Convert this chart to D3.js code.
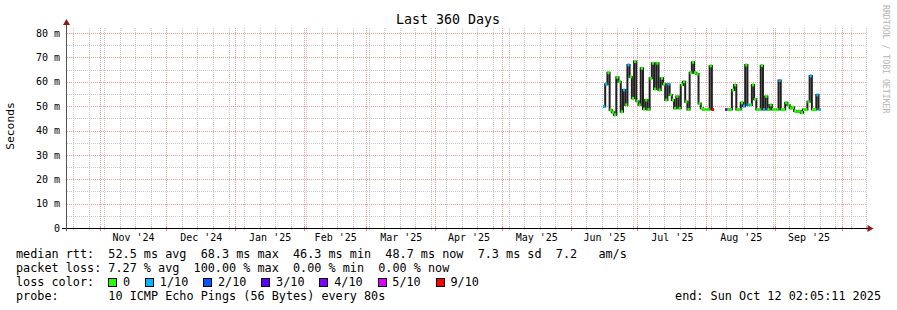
<!DOCTYPE html>
<html>
<head>
<meta charset="utf-8">
<script src="https://cdn.jsdelivr.net/npm/d3@7"></script>
<style>
  body { margin: 0; background: #fff; }
  svg text { font-family: "DejaVu Sans Mono", monospace; white-space: pre; }
</style>
</head>
<body>
<div id="chart"></div>
<script>
// time window of the graph
const endTime = new Date(2025, 9, 12, 2, 5, 11);
const spanDays = 360;

// y axis ticks (milliseconds)
const yTicks = [0, 10, 20, 30, 40, 50, 60, 70, 80];
const yMinorTicks = [5, 15, 25, 35, 45, 55, 65, 75];

// median rtt per day (ms) and lost pings out of 10, first block
const seg1Start = new Date(2025, 5, 15, 12);
const seg1Median = [49.8, 59.0, 63.7, 48.4, 47.5, 46.4, 61.8, 60.0, 47.7, 56.6,
  50.5, 66.9, 62.0, 53.2, 68.3, 52.0, 50.5, 65.5, 48.8, 52.5,
  48.6, 61.4, 67.6, 57.0, 67.6, 56.6, 61.4, 59.0, 52.5, 59.0,
  54.6, 52.5, 49.1, 54.0, 49.1, 58.7, 60.0, 51.8, 48.6, 63.7,
  68.0, 63.7, 63.2, 51.1, 49.1, 48.6, 48.6, 48.6, 66.5, 48.6];
const seg1Loss = [1, 1, 0, 0, 0, 0, 0, 0, 0, 1,
  0, 1, 0, 0, 0, 0, 0, 0, 0, 0,
  0, 0, 0, 0, 0, 0, 0, 0, 0, 1,
  0, 0, 0, 0, 0, 0, 0, 0, 0, 0,
  0, 0, 0, 0, 0, 0, 0, 0, 0, 9];

// second block after the outage
const seg2Start = new Date(2025, 7, 9, 12);
const seg2Median = [48.6, 48.6, 48.6, 56.6, 58.7, 48.6, 48.6, 51.4, 50.0, 66.9,
  50.5, 50.5, 58.7, 52.8, 48.6, 48.6, 66.6, 48.6, 54.0, 48.6,
  50.5, 48.6, 48.6, 48.6, 60.5, 48.6, 48.6, 51.4, 50.5, 49.1,
  49.5, 48.0, 47.7, 48.0, 47.3, 48.6, 48.6, 51.8, 62.4, 48.6,
  48.6, 54.6, 48.7];
const seg2Loss = [3, 0, 0, 0, 0, 0, 0, 0, 1, 0,
  1, 0, 0, 0, 0, 0, 0, 1, 0, 0,
  0, 0, 0, 0, 1, 0, 0, 0, 0, 0,
  0, 0, 0, 0, 0, 0, 0, 0, 1, 0,
  0, 1, 1];

// loss legend
const lossLabels = ["0", "1/10", "2/10", "3/10", "4/10", "5/10", "9/10"];
const lossColors = ["#26ff00", "#00b8ff", "#0059ff", "#5e00ff", "#7e00ff", "#dd00ff", "#ff0000"];

const legendLines = [
  "median rtt:  52.5 ms avg  68.3 ms max  46.3 ms min  48.7 ms now  7.3 ms sd  7.2   am/s",
  "packet loss: 7.27 % avg  100.00 % max  0.00 % min  0.00 % now",
  "loss color:",
  "probe:       10 ICMP Echo Pings (56 Bytes) every 80s"
];
const endLabel = "end: Sun Oct 12 02:05:11 2025";

const W = 897, H = 310;
const plot = { left: 66.5, right: 866.5, top: 28, bottom: 228 };

const startTime = new Date(endTime.getTime() - spanDays * 864e5);

const x = d3.scaleTime().domain([startTime, endTime]).range([plot.left, plot.right]);
const y = d3.scaleLinear().domain([0, (plot.bottom - plot.top) / 2.4375]).range([plot.bottom, plot.top]);

const svg = d3.select("#chart").append("svg")
  .attr("width", W).attr("height", H)
  .attr("xml:space", "preserve");

const minorCol = "#c8c8c8";
const majorCol = "#f09a9a";

// grid, dots snapped to whole pixels
const grid = svg.append("g").attr("shape-rendering", "crispEdges");
const weeks = d3.timeWeek.range(startTime, endTime);
const months = d3.timeMonth.range(startTime, endTime);
const px = v => Math.round(v) + 0.5;

grid.selectAll(".vminor").data(weeks).enter().append("line")
  .attr("x1", d => px(x(d))).attr("x2", d => px(x(d)))
  .attr("y1", plot.top).attr("y2", plot.bottom)
  .attr("stroke", minorCol).attr("stroke-dasharray", "1,1");

grid.selectAll(".hminor").data(yMinorTicks).enter().append("line")
  .attr("x1", 67).attr("x2", 867)
  .attr("y1", d => px(y(d))).attr("y2", d => px(y(d)))
  .attr("stroke", minorCol).attr("stroke-dasharray", "1,1");

grid.selectAll(".vmajor").data(months).enter().append("line")
  .attr("x1", d => px(x(d))).attr("x2", d => px(x(d)))
  .attr("y1", plot.top).attr("y2", plot.bottom)
  .attr("stroke", majorCol).attr("stroke-dasharray", "1,1");

grid.selectAll(".hmajor").data(yTicks.filter(d => d > 0)).enter().append("line")
  .attr("x1", 67).attr("x2", 867)
  .attr("y1", d => px(y(d))).attr("y2", d => px(y(d)))
  .attr("stroke", majorCol).attr("stroke-dasharray", "1,1");

// small ticks on the x axis
grid.selectAll(".tminor").data(weeks).enter().append("line")
  .attr("x1", d => px(x(d))).attr("x2", d => px(x(d)))
  .attr("y1", plot.bottom - 2).attr("y2", plot.bottom + 2)
  .attr("stroke", "#bbbbbb");
grid.selectAll(".tmajor").data(months).enter().append("line")
  .attr("x1", d => px(x(d))).attr("x2", d => px(x(d)))
  .attr("y1", plot.bottom - 2).attr("y2", plot.bottom + 3)
  .attr("stroke", "#e88080");

// series
const lossColor = l => lossColors[l <= 4 ? l : (l < 9 ? 5 : 6)];
const series = svg.append("g");

function drawBlock(start, med, loss) {
  const pts = med.map((v, i) => ({ t: d3.timeDay.offset(start, i), v: v, l: loss[i] }));
  const stepPts = pts.concat([{ t: d3.timeDay.offset(start, med.length), v: med[med.length - 1] }]);
  const line = d3.line().x(d => x(d.t)).y(d => y(d.v)).curve(d3.curveStepAfter);

  series.append("path").datum(stepPts)
    .attr("d", line)
    .attr("fill", "none")
    .attr("stroke", "#202020")
    .attr("stroke-width", 2);

  series.selectAll(null).data(pts).enter().append("line")
    .attr("x1", d => x(d.t))
    .attr("x2", d => x(d3.timeDay.offset(d.t, 1)))
    .attr("y1", d => y(d.v))
    .attr("y2", d => y(d.v))
    .attr("stroke", d => lossColor(d.l))
    .attr("stroke-width", 3);
}
drawBlock(seg1Start, seg1Median, seg1Loss);
drawBlock(seg2Start, seg2Median, seg2Loss);

// axes
const axisG = svg.append("g").attr("shape-rendering", "crispEdges");
axisG.append("line")
  .attr("x1", 62).attr("x2", plot.right + 2)
  .attr("y1", plot.bottom + 0.5).attr("y2", plot.bottom + 0.5)
  .attr("stroke", "#000");
axisG.append("line")
  .attr("x1", plot.left).attr("x2", plot.left)
  .attr("y1", plot.bottom + 3).attr("y2", 23)
  .attr("stroke", "#555");

const arrowCol = "#8b1a1a";
svg.append("path")
  .attr("d", `M${plot.right + 1},${plot.bottom - 3} L${plot.right + 7},${plot.bottom + 0.5} L${plot.right + 1},${plot.bottom + 4} Z`)
  .attr("fill", arrowCol);
svg.append("path")
  .attr("d", `M${plot.left - 3.5},${25} L${plot.left},${19} L${plot.left + 3.5},${25} Z`)
  .attr("fill", arrowCol);

// y labels
const yAxis = d3.axisLeft(y).tickValues(yTicks).tickSize(0).tickPadding(0)
  .tickFormat(d => d === 0 ? "0" : d + " m");
const yg = svg.append("g").attr("transform", "translate(60,0)").call(yAxis);
yg.select(".domain").remove();
yg.selectAll("text")
  .attr("x", 0)
  .style("font-size", "10px")
  .style("font-family", "'DejaVu Sans Mono', monospace")
  .attr("fill", "#000");

// month labels, centred on each month
const monthMids = d3.timeMonth.range(d3.timeMonth.floor(startTime), endTime)
  .map(m => new Date((m.getTime() + d3.timeMonth.offset(m, 1).getTime()) / 2))
  .filter(d => d > startTime && d < endTime);
const xAxis = d3.axisBottom(x).tickValues(monthMids).tickSize(0).tickPadding(0)
  .tickFormat(d3.timeFormat("%b '%y"));
const xg = svg.append("g").attr("transform", `translate(0,${plot.bottom + 6})`).call(xAxis);
xg.select(".domain").remove();
xg.selectAll("text")
  .style("font-size", "10px")
  .style("font-family", "'DejaVu Sans Mono', monospace")
  .attr("fill", "#000");

// title and axis title
svg.append("text")
  .attr("x", 448).attr("y", 24)
  .attr("text-anchor", "middle")
  .style("font-size", "13.3px")
  .text("Last 360 Days");

svg.append("text")
  .attr("transform", "translate(14,126) rotate(-90)")
  .attr("text-anchor", "middle")
  .style("font-size", "11.3px")
  .text("Seconds");

svg.append("text")
  .attr("transform", "translate(883,5) rotate(90)")
  .attr("text-anchor", "start")
  .style("font-size", "8.2px")
  .attr("fill", "#b4b4b4")
  .text("RRDTOOL / TOBI OETIKER");

// legend
const fs = 11.8, cw = fs * 0.602;
const legend = svg.append("g").style("font-size", fs + "px");
legendLines.forEach((t, i) => {
  legend.append("text").attr("x", 16).attr("y", 258 + i * 14).text(t);
});

let lx = 16 + 13 * cw;
lossLabels.forEach((lab, i) => {
  legend.append("rect")
    .attr("x", Math.round(lx) + 0.5).attr("y", 278.5)
    .attr("width", 8).attr("height", 8)
    .attr("fill", lossColors[i])
    .attr("stroke", "#000");
  legend.append("text").attr("x", lx + 14.7).attr("y", 286).text(lab);
  lx = lx + 14.7 + lab.length * cw + 15;
});

legend.append("text")
  .attr("x", 881).attr("y", 300)
  .attr("text-anchor", "end")
  .text(endLabel);
</script>
</body>
</html>
